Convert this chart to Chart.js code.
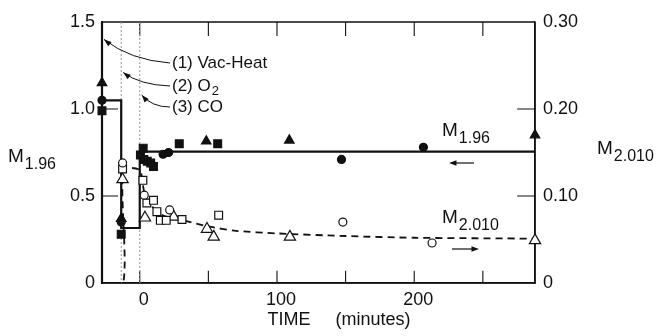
<!DOCTYPE html>
<html>
<head>
<meta charset="utf-8">
<script src="https://cdn.jsdelivr.net/npm/chart.js@4/dist/chart.umd.min.js"></script>
<style>
  html, body { margin: 0; padding: 0; background: #fff; }
</style>
</head>
<body>
<canvas id="grafico" width="664" height="336"></canvas>
<script>
// Ticks de los ejes
const xLabels = [0, 100, 200];
const xMarks = [0, 50, 100, 150, 200, 250];
const leftTicks = [0, 0.5, 1.0, 1.5];
const rightTicks = [0, 0.1, 0.2, 0.3];

// M1.96 (eje izquierdo) - simbolos llenos
const fillCircleT = [-27.5, -13.5, 17, 21, 147, 206.7];
const fillCircleM = [1.05, 0.35, 0.74, 0.75, 0.71, 0.78];
const fillSquareT = [-27.5, -13.5, 0.5, 2.5, 3, 5.5, 8, 10, 28.8, 56.8];
const fillSquareM = [0.99, 0.28, 0.735, 0.775, 0.71, 0.70, 0.69, 0.67, 0.80, 0.80];
const fillTriT = [-27.5, -13.5, 48.5, 109, 288];
const fillTriM = [1.15, 0.37, 0.815, 0.82, 0.85];
const stepT = [-27.5, -13.5, -13.5, 0, 0, 288];
const stepM = [1.05, 1.05, 0.316, 0.316, 0.755, 0.755];

// M2.010 (eje derecho) - simbolos abiertos
const openCircleT = [-12.5, 3.3, 21.8, 148, 213];
const openCircleM = [0.138, 0.101, 0.084, 0.070, 0.046];
const openSquareT = [-12.5, 2.3, 5.2, 10, 12.5, 15, 19.3, 30.8, 57.5];
const openSquareM = [0.131, 0.118, 0.092, 0.095, 0.082, 0.072, 0.072, 0.073, 0.078];
const openTriT = [-12.5, 3.8, 24.7, 49, 53.9, 109.4, 288];
const openTriM = [0.119, 0.075, 0.076, 0.062, 0.053, 0.053, 0.049];
const curveT = [-27.5, -12, -12, 0, 2, 4, 8, 14, 22, 32, 50, 70, 100, 150, 200, 288];
const curveM = [0, 0, 0.130, 0.130, 0.115, 0.100, 0.090, 0.080, 0.075, 0.072, 0.065, 0.060, 0.057, 0.054, 0.052, 0.051];

// lineas verticales (2) O2 y (3) CO
const eventT = [-13.5, 0];

// rango del eje de tiempo
const T0 = -27.5, T1 = 288;

const pts = (t, v) => t.map((x, i) => ({ x: x, y: v[i] }));

const FONT = '"Liberation Sans", Arial, sans-serif';
const INK = '#111';

function marker(label, t, v, style, filled, radius, axis) {
    return {
        label: label,
        data: pts(t, v),
        yAxisID: axis,
        showLine: false,
        pointStyle: style,
        pointRadius: radius,
        pointBackgroundColor: filled ? INK : '#fff',
        pointBorderColor: INK,
        pointBorderWidth: 1.2,
        clip: false
    };
}

// segmentos sueltos (separados por huecos) para marco y marcas
function segments(label, list, axis, width) {
    const data = [];
    list.forEach(s => {
        data.push({ x: s[0], y: s[1] }, { x: s[2], y: s[3] }, { x: s[2], y: null });
    });
    return {
        label: label,
        data: data,
        yAxisID: axis,
        showLine: true,
        spanGaps: false,
        borderColor: INK,
        borderWidth: width,
        pointRadius: 0,
        clip: false
    };
}

function arrowHead(ctx, fx, fy, tx, ty, len) {
    const a = Math.atan2(ty - fy, tx - fx);
    ctx.beginPath();
    ctx.moveTo(tx, ty);
    ctx.lineTo(tx - len * Math.cos(a - 0.35), ty - len * Math.sin(a - 0.35));
    ctx.lineTo(tx - len * Math.cos(a + 0.35), ty - len * Math.sin(a + 0.35));
    ctx.closePath();
    ctx.fill();
}

// Texto con subindice, ej. M con 1.96
function subLabel(ctx, x, y, main, sub) {
    ctx.font = '19px ' + FONT;
    ctx.fillText(main, x, y);
    const w = ctx.measureText(main).width;
    ctx.font = '16px ' + FONT;
    ctx.fillText(sub, x + w + 1, y + 8);
}

const decor = {
    id: 'decor',
    afterDraw(chart) {
        const ctx = chart.ctx;
        const sx = chart.scales.x, sy = chart.scales.y;
        ctx.save();
        ctx.strokeStyle = INK;
        ctx.fillStyle = INK;
        ctx.textBaseline = 'middle';
        ctx.textAlign = 'left';

        // titulos de ejes
        subLabel(ctx, 8, 157, 'M', '1.96');
        subLabel(ctx, 597, 149, 'M', '2.010');
        ctx.font = '18px ' + FONT;
        ctx.textAlign = 'center';
        ctx.fillText('TIME     (minutes)', 339, 320);
        ctx.textAlign = 'left';

        // etiquetas dentro del grafico
        subLabel(ctx, 442, 131, 'M', '1.96');
        subLabel(ctx, 442, 218, 'M', '2.010');
        ctx.lineWidth = 1.2;
        ctx.beginPath(); ctx.moveTo(474, 163); ctx.lineTo(452, 163); ctx.stroke();
        arrowHead(ctx, 474, 163, 449, 163, 8);
        ctx.beginPath(); ctx.moveTo(452, 249); ctx.lineTo(475, 249); ctx.stroke();
        arrowHead(ctx, 452, 249, 479, 249, 8);

        // anotaciones (1) (2) (3) con flechas curvas
        const notes = [
            { txt: ['(1) Vac-Heat', ''], ty: 63, tipX: sx.getPixelForValue(T0) + 2, tipY: sy.getPixelForValue(1.4), cx: 130, cy: 60 },
            { txt: ['(2) O', '2'], ty: 86, tipX: sx.getPixelForValue(eventT[0]) + 2, tipY: sy.getPixelForValue(1.21), cx: 140, cy: 85 },
            { txt: ['(3) CO', ''], ty: 107, tipX: sx.getPixelForValue(eventT[1]) + 2, tipY: sy.getPixelForValue(1.08), cx: 152, cy: 107 }
        ];
        notes.forEach(n => {
            ctx.font = '17px ' + FONT;
            ctx.fillText(n.txt[0], 172, n.ty);
            if (n.txt[1]) {
                const w = ctx.measureText(n.txt[0]).width;
                ctx.font = '13px ' + FONT;
                ctx.fillText(n.txt[1], 172 + w + 1, n.ty + 5);
            }
            ctx.lineWidth = 1;
            ctx.beginPath();
            ctx.moveTo(170, n.ty);
            ctx.quadraticCurveTo(n.cx, n.cy, n.tipX, n.tipY);
            ctx.stroke();
            arrowHead(ctx, n.cx, n.cy, n.tipX, n.tipY, 8);
        });
        ctx.restore();
    }
};

const datasets = [
    marker('M1.96 circulo', fillCircleT, fillCircleM, 'circle', true, 4, 'y'),
    marker('M1.96 cuadrado', fillSquareT, fillSquareM, 'rect', true, 5.5, 'y'),
    marker('M1.96 triangulo', fillTriT, fillTriM, 'triangle', true, 5.5, 'y'),
    marker('M2.010 circulo', openCircleT, openCircleM, 'circle', false, 4, 'y2'),
    marker('M2.010 cuadrado', openSquareT, openSquareM, 'rect', false, 5.5, 'y2'),
    marker('M2.010 triangulo', openTriT, openTriM, 'triangle', false, 6.5, 'y2'),
    {
        label: 'M1.96',
        data: pts(stepT, stepM),
        yAxisID: 'y',
        showLine: true,
        borderColor: INK,
        borderWidth: 2.2,
        pointRadius: 0,
        tension: 0
    },
    {
        label: 'M2.010',
        data: pts(curveT, curveM),
        yAxisID: 'y2',
        showLine: true,
        borderColor: INK,
        borderWidth: 1.8,
        borderDash: [7, 5],
        pointRadius: 0,
        tension: 0.25
    }
];

// lineas de eventos punteadas, de arriba abajo
eventT.forEach(t => {
    datasets.push({
        label: 'evento',
        data: [{ x: t, y: 1.5 }, { x: t, y: 0 }],
        yAxisID: 'y',
        showLine: true,
        borderColor: '#999',
        borderWidth: 1,
        borderDash: [2, 2],
        pointRadius: 0
    });
});

// marco del grafico (eje izquierdo mas grueso)
datasets.push(segments('eje izq', [[T0, 0, T0, 1.5]], 'y', 2.2));
datasets.push(segments('marco', [[T0, 1.5, T1, 1.5], [T1, 1.5, T1, 0], [T1, 0, T0, 0]], 'y', 1.5));

// marcas hacia dentro, en unidades de cada eje
const xTickSegs = [];
xMarks.forEach(v => {
    xTickSegs.push([v, 0, v, 0.07]);
    xTickSegs.push([v, 1.5, v, 1.42]);
});
[0.5, 1.0].forEach(v => xTickSegs.push([T0, v, T0 + 11.7, v]));
datasets.push(segments('marcas', xTickSegs, 'y', 1.1));
datasets.push(segments('marcas der', [0.1, 0.2].map(v => [T1, v, T1 - 13, v]), 'y2', 1.1));

const tickFont = { family: FONT, size: 18 };

new Chart(document.getElementById('grafico'), {
    type: 'scatter',
    data: { datasets: datasets },
    options: {
        responsive: false,
        animation: false,
        devicePixelRatio: 1,
        layout: { padding: { top: 22, left: 0, right: 0, bottom: 0 } },
        plugins: { legend: { display: false }, tooltip: { enabled: false } },
        scales: {
            x: {
                type: 'linear',
                min: T0,
                max: T1,
                afterBuildTicks: s => { s.ticks = xLabels.map(v => ({ value: v })); },
                afterFit: s => { s.height = 53; },
                grid: { display: false, drawTicks: false },
                border: { display: true, color: INK, width: 1.5 },
                ticks: { font: tickFont, color: INK, padding: 6, labelOffset: 4, maxRotation: 0 }
            },
            y: {
                position: 'left',
                min: 0,
                max: 1.5,
                afterBuildTicks: s => { s.ticks = leftTicks.map(v => ({ value: v })); },
                afterFit: s => { s.width = 102; },
                grid: { display: false, drawTicks: false },
                border: { display: true, color: INK, width: 2 },
                ticks: { font: tickFont, color: INK, padding: 7, callback: v => v === 0 ? '0' : v.toFixed(1) }
            },
            y2: {
                position: 'right',
                min: 0,
                max: 0.3,
                afterBuildTicks: s => { s.ticks = rightTicks.map(v => ({ value: v })); },
                afterFit: s => { s.width = 129; },
                grid: { display: false, drawTicks: false },
                border: { display: true, color: INK, width: 1.5 },
                ticks: { font: tickFont, color: INK, padding: 8, callback: v => v === 0 ? '0' : v.toFixed(2) }
            }
        }
    },
    plugins: [decor]
});
</script>
</body>
</html>
